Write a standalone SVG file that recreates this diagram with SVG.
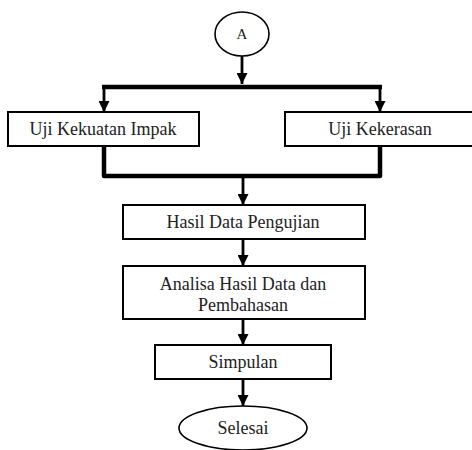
<svg xmlns="http://www.w3.org/2000/svg" width="472" height="450" viewBox="0 0 472 450">
<defs>
<marker id="ah" markerUnits="userSpaceOnUse" markerWidth="12" markerHeight="11" refX="11" refY="5.5" orient="auto">
<path d="M0,0 L11,5.5 L0,11 Z" fill="#000"/>
</marker>
<style>
.box{fill:#fff;stroke:#000;stroke-width:2}
.t{font-family:"Liberation Serif","Times New Roman",serif;font-size:18px;fill:#222;text-anchor:middle}
.ln{fill:none;stroke:#000;stroke-width:2.8}
.thick{fill:none;stroke:#000;stroke-width:4.5;stroke-linejoin:round}
</style>
</defs>
<rect width="472" height="450" fill="#fff"/>
<g id="connectors">
<line class="ln" x1="242" y1="56" x2="242" y2="84" marker-end="url(#ah)"/>
<line class="thick" x1="102" y1="87" x2="382" y2="87"/>
<line class="ln" x1="104" y1="87" x2="104" y2="112" marker-end="url(#ah)"/>
<line class="ln" x1="380" y1="87" x2="380" y2="112" marker-end="url(#ah)"/>
<path class="thick" d="M104,146 V176 H380 V146"/>
<line class="ln" x1="243" y1="178" x2="243" y2="205" marker-end="url(#ah)"/>
<line class="ln" x1="243" y1="239" x2="243" y2="266" marker-end="url(#ah)"/>
<line class="ln" x1="243" y1="319" x2="243" y2="345" marker-end="url(#ah)"/>
<line class="ln" x1="243" y1="379" x2="243" y2="406" marker-end="url(#ah)"/>
</g>
<g id="start">
<ellipse cx="242" cy="34" rx="27" ry="22" fill="#fff" stroke="#000" stroke-width="1.6"/>
<text class="t" x="242" y="39" style="font-size:15px">A</text>
</g>
<g id="impak">
<rect class="box" x="8" y="112" width="191" height="34"/>
<text class="t" x="103" y="135">Uji Kekuatan Impak</text>
</g>
<g id="kekerasan">
<rect class="box" x="285" y="112" width="192" height="34"/>
<text class="t" x="380" y="135">Uji Kekerasan</text>
</g>
<g id="hasil">
<rect class="box" x="123" y="205" width="242" height="34"/>
<text class="t" x="243" y="228">Hasil Data Pengujian</text>
</g>
<g id="analisa">
<rect class="box" x="123" y="266" width="242" height="53"/>
<text class="t" x="243" y="290">Analisa Hasil Data dan</text>
<text class="t" x="243" y="311">Pembahasan</text>
</g>
<g id="simpulan">
<rect class="box" x="155" y="345" width="176" height="34"/>
<text class="t" x="243" y="368">Simpulan</text>
</g>
<g id="selesai">
<ellipse cx="243" cy="428" rx="64" ry="22" fill="#fff" stroke="#000" stroke-width="1.6"/>
<text class="t" x="243" y="434">Selesai</text>
</g>
</svg>
